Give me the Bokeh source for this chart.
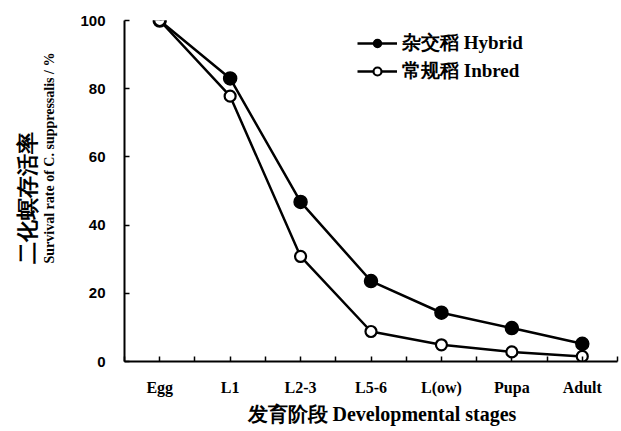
from bokeh.plotting import figure
from bokeh.models import FixedTicker, Range1d, Title, Legend, LegendItem
from bokeh.embed import file_html
from bokeh.resources import INLINE

stages = ["Egg", "L1", "L2-3", "L5-6", "L(ow)", "Pupa", "Adult"]
hybrid = [100, 83, 46.8, 23.6, 14.3, 9.8, 5.2]
inbred = [100, 77.8, 30.8, 8.8, 4.9, 2.8, 1.5]
y_ticks = [0, 20, 40, 60, 80, 100]

SERIF = "Liberation Serif"
SANS = "Liberation Sans"

xs = list(range(len(stages)))

p = figure(width=620, height=430, output_backend="svg", toolbar_location=None,
           x_range=Range1d(-0.5, len(stages) - 0.5), y_range=Range1d(0, 100),
           min_border_left=124, min_border_right=3, min_border_top=20, min_border_bottom=69)
p.outline_line_color = None
p.grid.visible = False

r1 = p.line(xs, hybrid, line_color="black", line_width=2.5)
m1 = p.scatter(xs, hybrid, size=13, fill_color="black", line_color="black", line_width=1.5)
r2 = p.line(xs, inbred, line_color="black", line_width=2.5)
m2 = p.scatter(xs, inbred, size=11, fill_color="white", line_color="black", line_width=2.2)

xa = p.xaxis[0]
xa.ticker = FixedTicker(ticks=xs, minor_ticks=[i - 0.5 for i in range(len(stages) + 1)])
xa.major_label_overrides = {i: s for i, s in enumerate(stages)}
xa.major_tick_in = 5
xa.major_tick_out = 0
xa.minor_tick_in = 5
xa.minor_tick_out = 0
xa.axis_line_color = "black"
xa.axis_line_width = 2
xa.major_tick_line_width = 1.5
xa.minor_tick_line_width = 1.5
xa.major_label_text_font = SERIF
xa.major_label_text_font_style = "bold"
xa.major_label_text_font_size = "16px"
xa.major_label_text_color = "black"
xa.major_label_standoff = 17

ya = p.yaxis[0]
ya.ticker = FixedTicker(ticks=y_ticks, minor_ticks=[])
ya.major_tick_in = 5
ya.major_tick_out = 0
ya.axis_line_color = "black"
ya.axis_line_width = 2
ya.major_tick_line_width = 1.5
ya.major_label_text_font = SANS
ya.major_label_text_font_style = "bold"
ya.major_label_text_font_size = "15px"
ya.major_label_text_color = "black"
ya.major_label_standoff = 19
# blank axis label used only as spacing before the titles
ya.axis_label = " "
ya.axis_label_text_font_size = "14px"
ya.axis_label_standoff = 2

# y axis titles (left panel, outward order)
p.add_layout(Title(text="Survival rate of C. suppressalis / %", align="left", offset=98,
                   standoff=0, text_font=SERIF, text_font_size="14px",
                   text_font_style="bold", text_color="black"), "left")
p.add_layout(Title(text="二化螟存活率", align="left", offset=98,
                   standoff=0, text_font=SERIF, text_font_size="22px",
                   text_font_style="bold", text_color="black"), "left")

# x axis title
p.add_layout(Title(text="发育阶段 Developmental stages", align="left", offset=123,
                   standoff=5, text_font=SERIF, text_font_size="20px",
                   text_font_style="bold", text_color="black"), "below")

legend = Legend(items=[LegendItem(label="杂交稻 Hybrid", renderers=[r1, m1]),
                       LegendItem(label="常规稻 Inbred", renderers=[r2, m2])],
                location=(233, 277), border_line_color=None, background_fill_alpha=0,
                padding=0, margin=0, spacing=2, glyph_width=40, glyph_height=20,
                label_standoff=5, label_text_font=SERIF, label_text_font_size="19px",
                label_text_font_style="bold", label_text_color="black")
p.add_layout(legend)

open("out.html", "w").write(file_html(p, INLINE))
